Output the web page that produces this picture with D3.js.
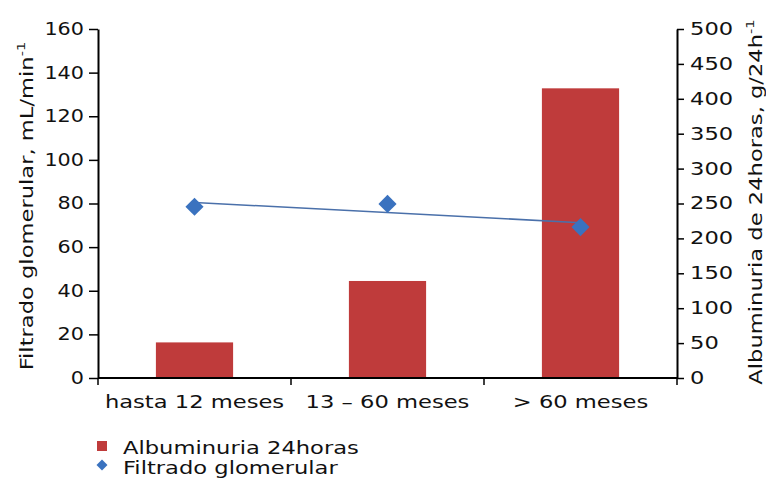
<!DOCTYPE html>
<html>
<head>
<meta charset="utf-8">
<script src="https://cdn.jsdelivr.net/npm/d3@7"></script>
<style>
  html, body { margin: 0; padding: 0; background: #fff; }
  svg { display: block; }
  text { font-family: "DejaVu Sans", Verdana, sans-serif; fill: #111; }
</style>
</head>
<body>
<svg id="chart" width="766" height="488"></svg>
<script>
// ---- data ----
const categories = ["hasta 12 meses", "13 \u2013 60 meses", "> 60 meses"];
const albuminuria = [51, 139, 415];      // right axis, g/24h
const filtrado = [78.5, 79.8, 69.2];     // left axis, mL/min
const leftTicks = [0, 20, 40, 60, 80, 100, 120, 140, 160];
const rightTicks = [0, 50, 100, 150, 200, 250, 300, 350, 400, 450, 500];
const seriesNames = ["Albuminuria 24horas", "Filtrado glomerular"];

// ---- layout ----
const W = 766, H = 488;
const plot = { left: 98, right: 677, top: 29, bottom: 378 };
const SX = 1.33;           // horizontal stretch of the reference's font
const SXN = 1.22;          // stretch for the left tick numbers
const FS = 17;
const barColor = "#bf3b3b";
const pointColor = "#3a72bf";
const trendColor = "#4a70aa";

const svg = d3.select("#chart");
svg.append("rect").attr("width", W).attr("height", H).attr("fill", "#fff");

const x = d3.scaleBand().domain(categories).range([plot.left, plot.right]).paddingInner(0).paddingOuter(0);
const yL = d3.scaleLinear().domain([0, 160]).range([plot.bottom, plot.top]);
const yR = d3.scaleLinear().domain([0, 500]).range([plot.bottom, plot.top]);
const barW = x.bandwidth() * 0.4;

// bars (albuminuria on right axis)
svg.append("g").selectAll("rect").data(albuminuria).join("rect")
  .attr("x", (d, i) => x(categories[i]) + x.bandwidth() / 2 - barW / 2)
  .attr("y", d => yR(d))
  .attr("width", barW)
  .attr("height", d => yR(0) - yR(d))
  .attr("fill", barColor);

// linear trendline for filtrado
const xi = filtrado.map((d, i) => i);
const mx = d3.mean(xi), my = d3.mean(filtrado);
const slope = d3.sum(xi.map((v, i) => (v - mx) * (filtrado[i] - my))) / d3.sum(xi.map(v => (v - mx) ** 2));
const icpt = my - slope * mx;
const cx = i => x(categories[i]) + x.bandwidth() / 2;
svg.append("line")
  .attr("x1", cx(0)).attr("y1", yL(icpt))
  .attr("x2", cx(filtrado.length - 1)).attr("y2", yL(icpt + slope * (filtrado.length - 1)))
  .attr("stroke", trendColor).attr("stroke-width", 1.6);

// diamonds
const diamond = d3.symbol().type(d3.symbolSquare).size(165);
svg.append("g").selectAll("path").data(filtrado).join("path")
  .attr("d", diamond)
  .attr("transform", (d, i) => `translate(${cx(i)},${yL(d)}) rotate(45)`)
  .attr("fill", pointColor);

// axes
function styleAxis(g) {
  g.select(".domain").attr("stroke", "#000").attr("stroke-width", 2);
  g.selectAll(".tick line").attr("stroke", "#000").attr("stroke-width", 1.5);
  g.selectAll("text").attr("font-size", FS).attr("fill", "#111")
    .style("font-family", '"DejaVu Sans", Verdana, sans-serif');
}

const gL = svg.append("g").attr("transform", `translate(${plot.left},0)`)
  .call(d3.axisLeft(yL).tickValues(leftTicks).tickSize(9).tickSizeOuter(0).tickPadding(5));
styleAxis(gL);
gL.selectAll(".tick text").attr("x", -14 / SXN).attr("transform", `scale(${SXN},1)`);

const gR = svg.append("g").attr("transform", `translate(${plot.right},0)`)
  .call(d3.axisRight(yR).tickValues(rightTicks).tickSize(7).tickSizeOuter(0).tickPadding(5));
styleAxis(gR);
gR.selectAll(".tick text").attr("x", 13 / SX).attr("transform", `scale(${SX},1)`);

const gX = svg.append("g").attr("transform", `translate(0,${plot.bottom})`)
  .call(d3.axisBottom(x).tickSize(0).tickSizeOuter(0));
styleAxis(gX);
gX.select(".domain").attr("d", `M${plot.left},0H${plot.right}`);
gX.selectAll(".tick text").attr("y", 30).attr("dy", 0).attr("x", 0)
  .attr("transform", `scale(${SX},1)`);
// category boundary ticks
const bounds = categories.map(c => x(c)).concat([x(categories[categories.length - 1]) + x.bandwidth()]);
gX.selectAll("line.bnd").data(bounds).join("line").attr("class", "bnd")
  .attr("x1", d => d).attr("x2", d => d).attr("y1", 0).attr("y2", 7)
  .attr("stroke", "#000").attr("stroke-width", 1.5);

// axis titles
function title(tx, ty, main) {
  const t = svg.append("g").attr("transform", `translate(${tx},${ty}) rotate(-90) scale(${SX},1)`)
    .append("text").attr("text-anchor", "middle").attr("font-size", FS);
  t.append("tspan").text(main);
  t.append("tspan").attr("font-size", 11).attr("dy", -8).text("-1");
}
title(33, 206, "Filtrado glomerular, mL/min");
title(762, 202, "Albuminuria de 24horas, g/24h");

// legend
const lg = svg.append("g");
lg.append("rect").attr("x", 97).attr("y", 441).attr("width", 10).attr("height", 10).attr("fill", barColor);
lg.append("path").attr("d", d3.symbol().type(d3.symbolSquare).size(60))
  .attr("transform", "translate(102,465) rotate(45)").attr("fill", pointColor);
seriesNames.forEach((n, i) => {
  lg.append("g").attr("transform", `translate(123,${454 + i * 20}) scale(${SX},1)`)
    .append("text").attr("font-size", FS).text(n);
});
</script>
</body>
</html>
